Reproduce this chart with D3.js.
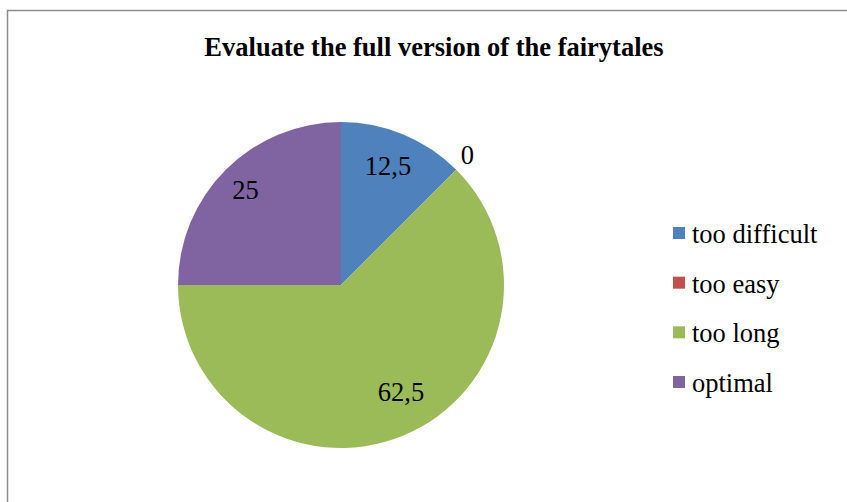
<!DOCTYPE html>
<html>
<head>
<meta charset="utf-8">
<script src="https://cdn.jsdelivr.net/npm/d3@7"></script>
<style>
  html, body { margin: 0; padding: 0; background: #fff; }
  svg { display: block; }
</style>
</head>
<body>
<svg id="chart" width="847" height="502"></svg>
<script>
// Survey answers (percent) for the full version of the fairytales
const categories = ["too difficult", "too easy", "too long", "optimal"];
const values = [12.5, 0, 62.5, 25];
const valueLabels = ["12,5", "0", "62,5", "25"];
const colors = ["#4F81BD", "#C0504D", "#9BBB59", "#8064A2"];
const title = "Evaluate the full version of the fairytales";

const svg = d3.select("#chart");
const W = 847, H = 502;
const font = "'Liberation Serif', 'Times New Roman', serif";

// Small per-slice adjustments of the value labels (px)
const labelNudge = {
  "too difficult": [-2, -1],
  "too easy": [-1, -3],
  "too long": [11, -11],
  "optimal": [-5, -4]
};

// Chart area frame
svg.append("rect")
  .attr("x", 7.5).attr("y", 10.5)
  .attr("width", W + 20).attr("height", H + 20)
  .attr("fill", "#fff")
  .attr("stroke", "#8c8c8c").attr("stroke-width", 1.5);

svg.append("text")
  .attr("x", 434).attr("y", 56)
  .attr("text-anchor", "middle")
  .attr("font-family", font).attr("font-weight", "bold").attr("font-size", 26.5)
  .attr("fill", "#000")
  .text(title);

const cx = 341, cy = 285, R = 163;
const color = d3.scaleOrdinal().domain(categories).range(colors);

const data = categories.map((c, i) => ({ cat: c, value: values[i], label: valueLabels[i] }));
const pie = d3.pie().sort(null).value(d => d.value);
const arcs = pie(data);

const arc = d3.arc().innerRadius(0).outerRadius(R);
const labelArc = d3.arc().innerRadius(2 * 128 - R).outerRadius(R);  // centroid at r=128
const outerLabelArc = d3.arc().innerRadius(2 * 180 - R).outerRadius(R); // centroid at r=180

const g = svg.append("g").attr("transform", `translate(${cx},${cy})`);

g.selectAll("path.slice")
  .data(arcs.filter(d => d.data.value > 0))
  .join("path")
  .attr("class", "slice")
  .attr("d", arc)
  .attr("fill", d => color(d.data.cat));

g.selectAll("text.val")
  .data(arcs)
  .join("text")
  .attr("class", "val")
  .attr("transform", d => {
    const [x, y] = (d.data.value > 0 ? labelArc : outerLabelArc).centroid(d);
    const [nx, ny] = labelNudge[d.data.cat];
    return `translate(${x + nx},${y + ny})`;
  })
  .attr("text-anchor", "middle")
  .attr("dominant-baseline", "central")
  .attr("font-family", font).attr("font-size", 26.5)
  .attr("fill", "#000")
  .text(d => d.data.label);

// Legend
const legendY = d3.scalePoint().domain(categories).range([233, 382]);
const lg = svg.append("g");
const rows = lg.selectAll("g").data(categories).join("g")
  .attr("transform", d => `translate(673,${legendY(d)})`);
rows.append("rect")
  .attr("x", 0).attr("y", -6).attr("width", 12).attr("height", 12)
  .attr("fill", d => color(d));
rows.append("text")
  .attr("x", 19).attr("y", 1)
  .attr("dominant-baseline", "central")
  .attr("font-family", font).attr("font-size", 26.5)
  .attr("fill", "#000")
  .text(d => d);
</script>
</body>
</html>
